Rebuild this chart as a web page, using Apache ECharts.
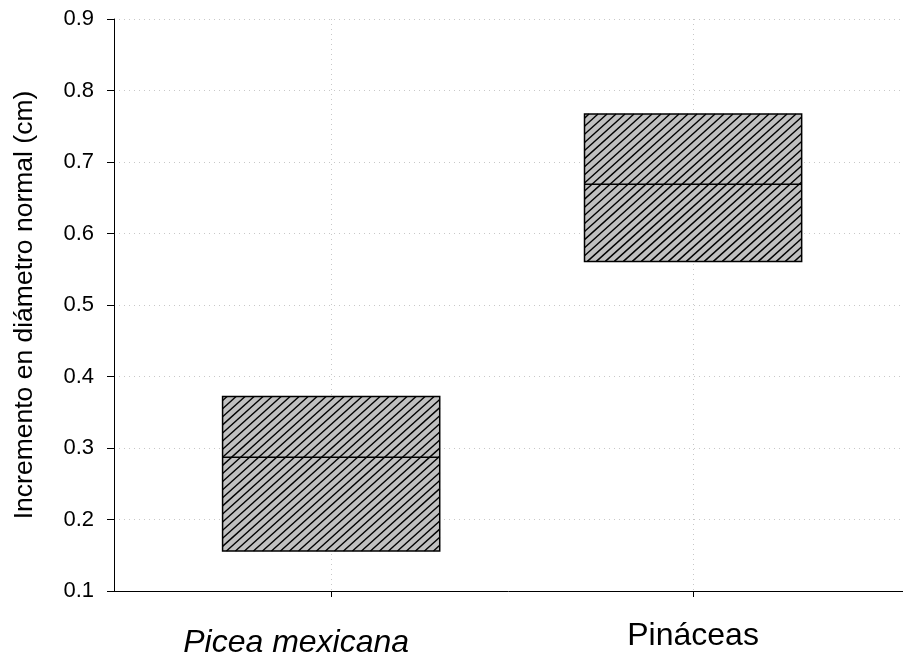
<!DOCTYPE html>
<html>
<head>
<meta charset="utf-8">
<script src="https://cdn.jsdelivr.net/npm/echarts@6/dist/echarts.min.js"></script>
<style>
html,body{margin:0;padding:0;background:#fff;}
#chart{width:903px;height:660px;}
</style>
</head>
<body>
<div id="chart"></div>
<script>
// ---- data ----
const categories = ['Picea mexicana', 'Pináceas'];
const q1Values = [0.156, 0.561];
const medianValues = [0.287, 0.669];
const q3Values = [0.372, 0.767];
const yTickLabels = ['0.1', '0.2', '0.3', '0.4', '0.5', '0.6', '0.7', '0.8', '0.9'];
const yAxisTitle = 'Incremento en diámetro normal (cm)';

// ---- chart ----
const catPositions = categories.map((c, i) => i + 1);
const seriesData = categories.map((c, i) => [catPositions[i], q1Values[i], medianValues[i], q3Values[i]]);

const FONT = '"Liberation Sans", Arial, sans-serif';
const BOX_HALF = 0.3;
const HATCH_SLOPE = 0.9;
const HATCH_DX = 9;

function renderBox(params, api) {
  const x = api.value(0);
  const lo = api.coord([x - BOX_HALF, api.value(1)]);
  const hi = api.coord([x + BOX_HALF, api.value(3)]);
  const md = api.coord([x, api.value(2)]);
  const x0 = lo[0], x1 = hi[0], y0 = hi[1], y1 = lo[1];
  const children = [{
    type: 'rect',
    shape: { x: x0, y: y0, width: x1 - x0, height: y1 - y0 },
    style: { fill: '#c0c0c0', stroke: null }
  }];
  const m = HATCH_SLOPE;
  const step = m * HATCH_DX;
  const bmin = y0 + m * x0, bmax = y1 + m * x1;
  for (let b = bmin + step * 0.5; b < bmax; b += step) {
    const xa = Math.max(x0, (b - y1) / m);
    const xb = Math.min(x1, (b - y0) / m);
    if (xb > xa) {
      children.push({
        type: 'line',
        shape: { x1: xa, y1: b - m * xa, x2: xb, y2: b - m * xb },
        style: { stroke: '#000', lineWidth: 1.4 }
      });
    }
  }
  children.push({
    type: 'line',
    shape: { x1: x0, y1: md[1], x2: x1, y2: md[1] },
    style: { stroke: '#000', lineWidth: 1.5 }
  });
  children.push({
    type: 'rect',
    shape: { x: x0, y: y0, width: x1 - x0, height: y1 - y0 },
    style: { fill: null, stroke: '#000', lineWidth: 1.5 }
  });
  return { type: 'group', children: children };
}

const chart = echarts.init(document.getElementById('chart'), null, { renderer: 'canvas' });
chart.setOption({
  animation: false,
  backgroundColor: '#ffffff',
  grid: { left: 114, right: 0, top: 19, bottom: 69, containLabel: false },
  xAxis: {
    type: 'value',
    min: 0.4,
    max: 2.58,
    axisLine: { show: true, onZero: false, lineStyle: { color: '#000', width: 1 } },
    axisTick: { show: true, inside: false, length: 6, customValues: catPositions, lineStyle: { color: '#000' } },
    axisLabel: {
      show: true,
      customValues: catPositions,
      margin: 29,
      formatter: function (v) {
        const idx = Math.round(v) - 1;
        const name = categories[idx] || '';
        return idx === 0 ? '{i|' + name + '}' : '{n|' + name + '}';
      },
      rich: {
        i: { fontFamily: FONT, fontSize: 32, fontStyle: 'italic', color: '#000', padding: [7, 70, 0, 0] },
        n: { fontFamily: FONT, fontSize: 32, color: '#000' }
      }
    },
    splitLine: { show: true, lineStyle: { color: '#c8c8c8', type: [1, 4], width: 1 } }
  },
  yAxis: {
    type: 'value',
    min: 0.1,
    max: 0.9,
    interval: 0.1,
    name: yAxisTitle,
    nameLocation: 'middle',
    nameGap: 76,
    nameRotate: 90,
    nameTextStyle: { fontFamily: FONT, fontSize: 26.5, color: '#000' },
    axisLine: { show: true, lineStyle: { color: '#000', width: 1 } },
    axisTick: { show: true, length: 7, lineStyle: { color: '#000' } },
    axisLabel: {
      margin: 20,
      fontFamily: FONT,
      fontSize: 22,
      color: '#000',
      formatter: function (v) {
        const idx = Math.round((v - 0.1) / 0.1);
        return yTickLabels[idx] !== undefined ? yTickLabels[idx] : '';
      }
    },
    splitLine: { show: true, lineStyle: { color: '#c8c8c8', type: [1, 4], width: 1 } }
  },
  series: [{
    type: 'custom',
    renderItem: renderBox,
    data: seriesData,
    encode: { x: 0, y: [1, 2, 3] },
    clip: false
  }]
});
</script>
</body>
</html>
